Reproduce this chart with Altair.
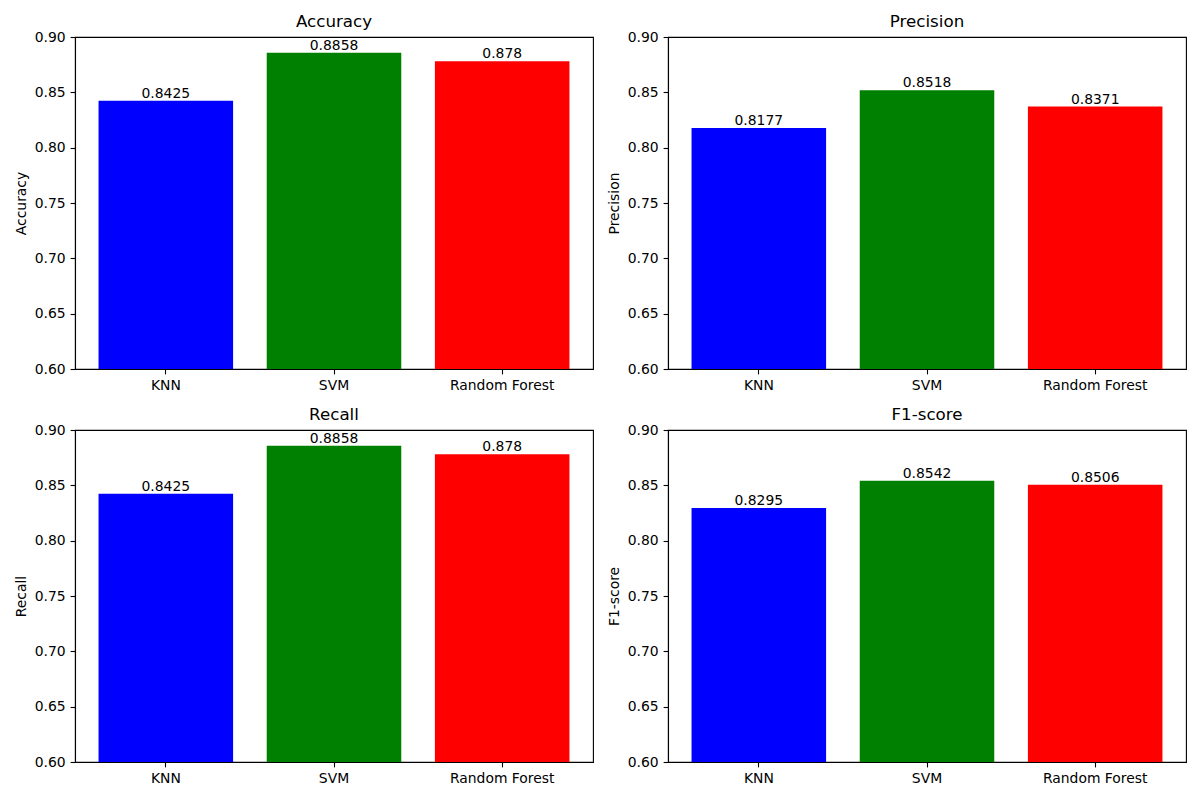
import altair as alt
import pandas as pd

models = ["KNN", "SVM", "Random Forest"]
accuracy = [0.8425, 0.8858, 0.878]
precision = [0.8177, 0.8518, 0.8371]
recall = [0.8425, 0.8858, 0.878]
f1_score = [0.8295, 0.8542, 0.8506]
metric_names = ["Accuracy", "Precision", "Recall", "F1-score"]
metric_values = [accuracy, precision, recall, f1_score]
bar_colors = ["#0000ff", "#008000", "#ff0000"]
y_ticks = [0.60, 0.65, 0.70, 0.75, 0.80, 0.85, 0.90]

FS = 13.9


def panel(name, vals):
    df = pd.DataFrame({"model": models, "value": vals})
    base = alt.Chart(df)
    x = alt.X(
        "model:N",
        sort=models,
        scale=alt.Scale(paddingInner=0.2, paddingOuter=0.14),
        axis=alt.Axis(title=None, labelAngle=0),
    )
    y = alt.Y(
        "value:Q",
        scale=alt.Scale(domain=[0.6, 0.9], zero=False, nice=False),
        axis=alt.Axis(
            title=name,
            values=y_ticks,
            format=".2f",
            minExtent=41,
            maxExtent=41,
            titlePadding=6,
        ),
    )
    bars = base.mark_bar(clip=True).encode(
        x=x,
        y=y,
        y2=alt.datum(0.6),
        color=alt.Color(
            "model:N", scale=alt.Scale(domain=models, range=bar_colors), legend=None
        ),
    )
    text = base.mark_text(baseline="bottom", dy=0, fontSize=FS, color="black").encode(
        x=x,
        y=y,
        text=alt.Text("value:Q", format=".4~f"),
    )
    return alt.layer(bars, text).properties(
        width=518,
        height=332,
        title=alt.TitleParams(name, fontSize=16.7, fontWeight="normal", offset=-1, color="black"),
    )


panels = [panel(n, v) for n, v in zip(metric_names, metric_values)]

chart = (
    alt.concat(*panels, columns=2, spacing={"row": 61, "column": 75}, bounds="flush")
    .configure(font="DejaVu Sans", background="white")
    .configure_view(stroke="black", strokeWidth=1.1)
    .configure_axis(
        labelFontSize=FS,
        titleFontSize=FS,
        titleFontWeight="normal",
        labelColor="black",
        titleColor="black",
        tickColor="black",
        domainColor="black",
        domainWidth=1.1,
        tickWidth=1.1,
        tickSize=4.9,
        labelPadding=4.9,
        grid=False,
    )
)

chart.save("out.html", embed_options={"renderer": "svg", "actions": False})
